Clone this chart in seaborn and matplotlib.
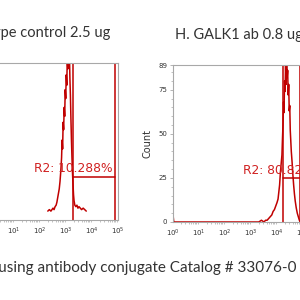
import numpy as np
import matplotlib
matplotlib.use("Agg")
import matplotlib.pyplot as plt
import seaborn as sns

# histogram data: bin position (log10 of fluorescence) and event count
ctrl_log = [2.30, 2.36, 2.42, 2.46, 2.50, 2.54, 2.58, 2.62, 2.65, 2.68, 2.71, 2.74,
            2.77, 2.80, 2.83, 2.85, 2.87, 2.89, 2.91, 2.93, 2.95, 2.97, 2.99, 3.01,
            3.03, 3.05, 3.07, 3.09, 3.11, 3.13, 3.15, 3.17, 3.19, 3.21, 3.23, 3.25,
            3.27, 3.29, 3.31, 3.34, 3.38, 3.42, 3.46, 3.50, 3.55, 3.60, 3.66, 3.72, 3.78]
ctrl_count = [0, 1, 0, 1, 2, 1, 3, 4, 6, 9, 12, 15,
              20, 27, 36, 48, 42, 60, 55, 70, 64, 82, 76, 92,
              85, 104, 96, 112, 99, 108, 90, 78, 62, 48, 36, 26,
              18, 11, 7, 4, 3, 4, 2, 3, 2, 1, 2, 1, 0]

galk_log = [0.00, 0.03, 3.30, 3.40, 3.50, 3.56, 3.62, 3.68, 3.74, 3.80, 3.85, 3.90,
            3.95, 4.00, 4.04, 4.07, 4.10, 4.13, 4.16, 4.19, 4.21, 4.23, 4.25, 4.27,
            4.29, 4.31, 4.33, 4.35, 4.37, 4.39, 4.41, 4.43, 4.45, 4.47, 4.49, 4.51,
            4.53, 4.55, 4.58, 4.61, 4.64, 4.67, 4.70, 4.74, 4.78, 4.82, 4.86, 4.90, 5.00]
galk_count = [4, 0, 0, 1, 0, 1, 1, 2, 3, 4, 6, 7,
              9, 11, 13, 17, 21, 28, 33, 38, 47, 55, 68, 62,
              80, 74, 89, 78, 89, 82, 86, 72, 78, 63, 66, 52,
              46, 40, 34, 27, 21, 16, 12, 8, 5, 3, 1, 0, 0]

titles = ["Isotype control 2.5 ug", "H. GALK1 ab 0.8 ug"]
gate_labels = ["R2: 10.288%", "R2: 80.822%"]
gate_lo = [3.26, 4.23]
gate_hi = [4.90, 4.90]
gate_y = [23, 25]
footer = "Flow cytometry using antibody conjugate Catalog # 33076-0"
y_ticks = [0, 25, 50, 75, 89]

sns.set_style("white")
plt.rcParams["font.family"] = ["DejaVu Sans"]

red = "#c00000"
grey = "#a8a8a8"
txt = "#333333"

fig = plt.figure(figsize=(3, 3), dpi=100)
ax1 = fig.add_axes([-0.04, 0.2667, 0.4333, 0.5233])
ax2 = fig.add_axes([0.5767, 0.26, 0.4333, 0.5233])

panels = [(ax1, ctrl_log, ctrl_count, (-6, 100)), (ax2, galk_log, galk_count, (0, 89))]
for i, (ax, lg, ct, ylim) in enumerate(panels):
    x = 10 ** np.array(lg)
    sns.lineplot(x=x, y=ct, ax=ax, color=red, lw=1.1, sort=False)
    ax.set_xscale("log")
    ax.set_xlim(1, 1e5)
    ax.set_ylim(*ylim)
    ax.axvline(10 ** gate_lo[i], color=red, lw=1.1)
    ax.axvline(10 ** gate_hi[i], color=red, lw=1.1)
    ax.plot([10 ** gate_lo[i], 10 ** gate_hi[i]], [gate_y[i], gate_y[i]], color=red, lw=1.1)
    ax.set_xticks([10 ** k for k in range(6)])
    ax.set_xticklabels([r"$10^{%d}$" % k for k in range(6)])
    ax.tick_params(axis="x", which="major", length=2, width=0.6, color=grey,
                   labelsize=5, labelcolor=txt, pad=2)
    ax.tick_params(axis="x", which="minor", length=1.2, width=0.5, color=grey, bottom=True)
    for s in ax.spines.values():
        s.set_color(grey)
        s.set_linewidth(0.8)

ax1.tick_params(axis="y", left=False, labelleft=False)
ax1.text(10 ** 3.27, 28.5, gate_labels[0], color="#d02020", fontsize=8.8, ha="center", va="center")

ax2.set_yticks(y_ticks)
ax2.set_yticks(range(0, 90, 5), minor=True)
ax2.tick_params(axis="y", which="major", length=2, width=0.6, color=grey,
                labelsize=5, labelcolor=txt, pad=2, left=True)
ax2.tick_params(axis="y", which="minor", length=1.2, width=0.5, color=grey, left=True)
ax2.set_ylabel("Count", fontsize=7, color=txt, labelpad=4)
ax2.text(10 ** 2.69, 29, gate_labels[1], color="#d02020", fontsize=8.8, ha="left", va="center")

fig.text(110 / 300, 1 - 33 / 300, titles[0], fontsize=10.5, color=txt, family="Lato",
         ha="right", va="center")
fig.text(175 / 300, 1 - 35 / 300, titles[1], fontsize=10.5, color=txt, family="Lato",
         ha="left", va="center")
fig.text(-0.37, 1 - 268 / 300, footer, fontsize=11, color=txt, family="Lato",
         ha="left", va="center")

fig.savefig("out.png", dpi=100)
